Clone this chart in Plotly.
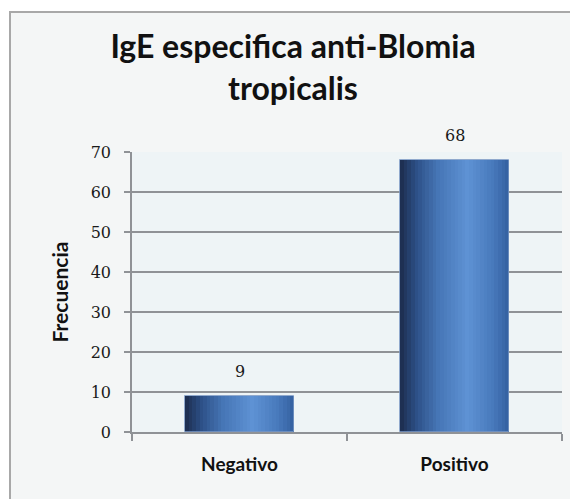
import plotly.graph_objects as go

categories = ["Negativo", "Positivo"]
values = [9, 68]
y_ticks = [0, 10, 20, 30, 40, 50, 60, 70]
title_lines = ["IgE especifica anti-Blomia", "tropicalis"]
y_title = "Frecuencia"

# horizontal gradient stops for the cylinder-like bars (position, rgb)
stops = [
    (0.00, (28, 44, 76)),
    (0.15, (45, 80, 135)),
    (0.35, (70, 118, 182)),
    (0.62, (94, 146, 212)),
    (0.85, (72, 122, 188)),
    (1.00, (52, 96, 160)),
]

def color_at(t):
    for (p0, c0), (p1, c1) in zip(stops[:-1], stops[1:]):
        if p0 <= t <= p1:
            f = (t - p0) / (p1 - p0)
            c = [round(a + (b - a) * f) for a, b in zip(c0, c1)]
            return f"rgb({c[0]},{c[1]},{c[2]})"
    return "rgb(52,96,160)"

W = 0.507
N = 30
fig = go.Figure()
for i in range(N):
    t = (i + 0.5) / N
    fig.add_trace(go.Bar(
        x=categories, y=values,
        width=W / N + 0.002, offset=-W / 2 + i * W / N,
        marker=dict(color=color_at(t), line=dict(width=0)),
        showlegend=False, hoverinfo="skip",
    ))
# thin outline
fig.add_trace(go.Bar(
    x=categories, y=values, width=W, offset=-W / 2,
    marker=dict(color="rgba(0,0,0,0)", line=dict(color="rgba(120,150,195,0.8)", width=1)),
    showlegend=False, hoverinfo="skip",
))

for c, v in zip(categories, values):
    fig.add_annotation(x=c, y=v, text=str(v), showarrow=False,
                       yanchor="bottom", yshift=13,
                       font=dict(family="DejaVu Serif", size=16, color="#1a1a1a"))

# page body has an 8px default margin; figure is sized/offset to compensate
OFF = 8
FW, FH = 578 - OFF, 499 - OFF
L, R, T, B = 132 - OFF, 16, 152 - OFF, 67
pw, ph = FW - L - R, FH - T - B

def px_x(p):
    return (p - OFF - L) / pw

def px_y(p):
    return (T + OFF + ph - p) / ph

fig.add_shape(type="rect", xref="paper", yref="paper",
              x0=px_x(10), x1=px_x(620), y0=px_y(540), y1=px_y(12),
              fillcolor="#f4f6f6", line=dict(color="#a8a8a8", width=2), layer="below")
fig.add_shape(type="rect", xref="paper", yref="paper",
              x0=0, x1=1, y0=0, y1=1,
              fillcolor="#eef4f6", line=dict(width=0), layer="below")

fig.update_layout(
    width=FW, height=FH,
    margin=dict(l=L, r=R, t=T, b=B),
    paper_bgcolor="white", plot_bgcolor="rgba(0,0,0,0)",
    barmode="overlay", bargap=0,
    title=dict(text="<b>" + title_lines[0] + "</b><br><b>" + title_lines[1] + "</b>",
               x=(293 - OFF) / FW, xanchor="center",
               y=1 - 50 / FH, yanchor="top", yref="container",
               font=dict(family="Lato", size=32, color="#111111")),
    yaxis=dict(range=[0, 70], tickvals=y_ticks, showgrid=True,
               gridcolor="#8f9296", gridwidth=1.5,
               showline=True, linecolor="#8f9296", linewidth=1.5,
               ticks="outside", ticklen=6, tickcolor="#8f9296", tickwidth=1.5,
               ticklabelstandoff=10,
               tickfont=dict(family="DejaVu Serif", size=16, color="#1a1a1a"),
               title=dict(text="<b>" + y_title + "</b>", standoff=16,
                          font=dict(family="Lato", size=21, color="#111111")),
               zeroline=False),
    xaxis=dict(showline=True, linecolor="#8f9296", linewidth=1.5,
               ticks="outside", tickson="boundaries", ticklen=7,
               tickcolor="#8f9296", tickwidth=1.5, showgrid=False,
               ticklabelstandoff=14,
               tickvals=categories,
               ticktext=["<b>" + c + "</b>" for c in categories],
               tickfont=dict(family="Lato", size=19, color="#111111")),
)

fig.write_html("out.html")
